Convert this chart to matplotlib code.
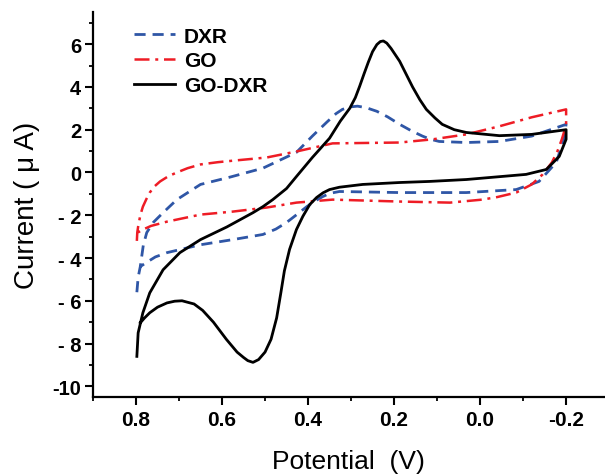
import numpy as np
import matplotlib
matplotlib.use('Agg')
import matplotlib.pyplot as plt
from matplotlib.ticker import MultipleLocator, FixedLocator

plt.rcParams['font.family'] = ['Liberation Sans', 'DejaVu Sans']

# Cyclic voltammograms (potential V, current uA)
dxr_e = [0.798, 0.795, 0.79, 0.783, 0.775, 0.76, 0.737, 0.705, 0.65, 0.58, 0.505,
         0.427, 0.39, 0.357, 0.335, 0.32, 0.3, 0.285, 0.265, 0.24, 0.215, 0.187,
         0.16, 0.134, 0.115, 0.095, 0.032, -0.045, -0.12, -0.2, -0.195, -0.177,
         -0.137, -0.084, 0.032, 0.187, 0.327, 0.35, 0.366, 0.385, 0.403, 0.425,
         0.45, 0.475, 0.505, 0.575, 0.65, 0.728, 0.755, 0.775, 0.79]
dxr_i = [-5.6, -4.9, -4.4, -3.4, -2.81, -2.34, -1.88, -1.27, -0.56, -0.21, 0.2,
         0.94, 1.7, 2.34, 2.75, 2.95, 3.07, 3.1, 3.03, 2.86, 2.6, 2.25,
         1.95, 1.7, 1.55, 1.45, 1.4, 1.45, 1.7, 2.25, 1.55, 0.47,
         -0.42, -0.8, -0.94, -0.94, -0.89, -0.98, -1.13, -1.35, -1.6, -1.95,
         -2.34, -2.65, -2.9, -3.14, -3.38, -3.75, -3.95, -4.2, -4.4]

go_e = [0.798, 0.797, 0.795, 0.79, 0.784, 0.776, 0.768, 0.757, 0.744, 0.725, 0.705,
        0.68, 0.65, 0.61, 0.575, 0.496, 0.427, 0.343, 0.187, 0.11, 0.032, -0.045,
        -0.12, -0.2, -0.2, -0.19, -0.18, -0.167, -0.145, -0.12, -0.084, -0.04,
        -0.005, 0.07, 0.187, 0.343, 0.427, 0.496, 0.575, 0.65, 0.728, 0.765, 0.784,
        0.795]
go_i = [-3.2, -2.8, -2.53, -2.0, -1.6, -1.25, -0.94, -0.65, -0.42, -0.18, 0.0,
        0.2, 0.375, 0.48, 0.55, 0.7, 0.98, 1.36, 1.4, 1.55, 1.78, 2.16,
        2.58, 2.95, 2.2, 1.55, 1.0, 0.47, -0.1, -0.56, -0.94, -1.15,
        -1.27, -1.41, -1.36, -1.27, -1.41, -1.64, -1.83, -1.97, -2.3, -2.5, -2.67,
        -2.8]

godxr_e = [0.798, 0.795, 0.784, 0.768, 0.737, 0.698, 0.65, 0.589, 0.528, 0.505,
           0.482, 0.45, 0.427, 0.39, 0.35, 0.325, 0.303, 0.29, 0.28, 0.27, 0.26,
           0.25, 0.24, 0.232, 0.225, 0.217, 0.207, 0.197, 0.187, 0.172, 0.157,
           0.14, 0.125, 0.105, 0.088, 0.06, 0.032, -0.045, -0.12, -0.2, -0.2,
           -0.184, -0.154, -0.107, 0.032, 0.118, 0.187, 0.273, 0.327, 0.35, 0.365,
           0.38, 0.396, 0.412, 0.427, 0.443, 0.455, 0.463, 0.473, 0.486, 0.5,
           0.515, 0.528, 0.54, 0.55, 0.565, 0.59, 0.62, 0.645, 0.665, 0.693,
           0.71, 0.728, 0.75, 0.768, 0.78, 0.79]
godxr_i = [-8.6, -7.5, -6.56, -5.63, -4.55, -3.75, -3.14, -2.55, -1.88, -1.6,
           -1.27, -0.75, -0.19, 0.7, 1.6, 2.4, 3.0, 3.5, 4.03, 4.6, 5.15,
           5.65, 5.98, 6.12, 6.15, 6.05, 5.8, 5.5, 5.2, 4.6, 4.0,
           3.4, 2.95, 2.55, 2.25, 2.0, 1.87, 1.72, 1.78, 2.0, 1.55,
           0.75, 0.14, -0.09, -0.33, -0.42, -0.47, -0.56, -0.69, -0.8, -0.95,
           -1.17, -1.5, -2.05, -2.67, -3.6, -4.6, -5.6, -6.8, -7.8, -8.4,
           -8.75, -8.88, -8.8, -8.65, -8.4, -7.8, -7.0, -6.45, -6.15, -6.0,
           -6.02, -6.1, -6.3, -6.56, -6.8, -7.03]

y_ticks = [-10, -8, -6, -4, -2, 0, 2, 4, 6]
y_labels = ['-10', '- 8', '- 6', '- 4', '- 2', '0', '2', '4', '6']
x_ticks = [0.8, 0.6, 0.4, 0.2, 0.0, -0.2]
x_labels = ['0.8', '0.6', '0.4', '0.2', '0.0', '-0.2']

fig = plt.figure(figsize=(6.05, 4.77), dpi=100)
ax = fig.add_axes([0.1537, 0.1656, 0.846, 0.807])

ax.plot(dxr_e, dxr_i, color='#2f56a6', lw=2.0, dashes=(4, 2.5), label='DXR')
ax.plot(go_e, go_i, color='#ee1c25', lw=1.8, dashes=(6, 2.3, 1.2, 2.3), label='GO')
ax.plot(godxr_e, godxr_i, color='black', lw=2.0, label='GO-DXR')

ax.set_xlim(0.9, -0.29)
ax.set_ylim(-10.5, 7.5)

for side in ['top', 'right']:
    ax.spines[side].set_visible(False)
for side in ['left', 'bottom']:
    ax.spines[side].set_linewidth(1.6)

ax.yaxis.set_major_locator(FixedLocator(y_ticks))
ax.set_yticklabels(y_labels)
ax.yaxis.set_minor_locator(MultipleLocator(1))
ax.xaxis.set_major_locator(FixedLocator(x_ticks))
ax.set_xticklabels(x_labels)
ax.xaxis.set_minor_locator(MultipleLocator(0.1))

ax.tick_params(which='major', direction='out', length=5.5, width=1.5, pad=3)
ax.tick_params(which='minor', direction='out', length=3, width=1.3)
ax.tick_params(axis='x', which='major', labelsize=15, pad=4)
ax.tick_params(axis='y', which='major', labelsize=14.5)
for lab in ax.get_xticklabels() + ax.get_yticklabels():
    lab.set_fontweight('bold')

ax.set_xlabel('Potential  (V)', fontsize=19, labelpad=14)
ax.set_ylabel('Current ( \u03bc A)', fontsize=20, labelpad=9)

ax.legend(loc='upper left', bbox_to_anchor=(0.08, 0.962), frameon=False,
          prop={'weight': 'bold', 'size': 15}, handlelength=1.95,
          handletextpad=0.45, labelspacing=0.27, borderaxespad=0, borderpad=0)

fig.savefig('out.png', dpi=100)
